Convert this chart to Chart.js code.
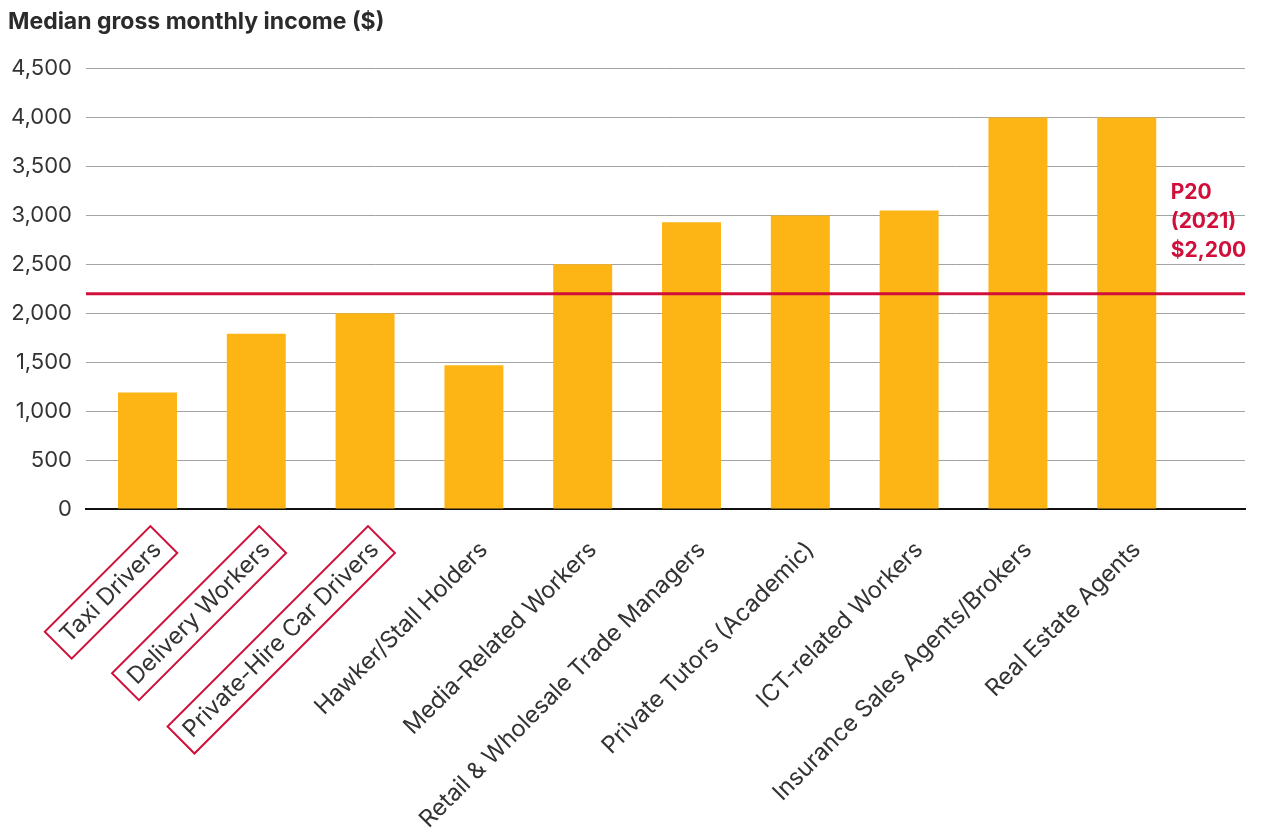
<!DOCTYPE html>
<html>
<head>
<meta charset="utf-8">
<title>Median gross monthly income</title>
<script src="https://cdn.jsdelivr.net/npm/chart.js@4.4.1/dist/chart.umd.min.js"></script>
<style>
  html, body { margin: 0; padding: 0; background: #fff; }
  canvas { display: block; }
</style>
</head>
<body>
<canvas id="myChart" width="1262" height="836"></canvas>
<script>
const occupations = [
  'Taxi Drivers',
  'Delivery Workers',
  'Private-Hire Car Drivers',
  'Hawker/Stall Holders',
  'Media-Related Workers',
  'Retail & Wholesale Trade Managers',
  'Private Tutors (Academic)',
  'ICT-related Workers',
  'Insurance Sales Agents/Brokers',
  'Real Estate Agents'
];
const medianIncome = [1190, 1790, 2000, 1470, 2500, 2930, 3000, 3050, 4000, 4000];

// platform workers get a box round their label
const highlighted = ['Taxi Drivers', 'Delivery Workers', 'Private-Hire Car Drivers'];

const p20Income = 2200;
const p20Label = ['P20', '(2021)', '$2,200'];

const yMin = 0;
const yMax = 4500;
const yStep = 500;

const barColor = '#FDB515';
const red = '#D0103A';
const textColor = '#333333';
const fontFamily = 'Inter, "Noto Sans", sans-serif';

// x runs a little past the first and last bar so the grid reaches the edges
const xMin = -0.565;
const xMax = 10.087;

const boxedLabels = {
  id: 'boxedLabels',
  afterDraw(chart) {
    const ctx = chart.ctx;
    chart.scales.x.getLabelItems().forEach(item => {
      if (!highlighted.includes(item.label)) return;
      const [tx, ty] = item.options.translation;
      ctx.save();
      ctx.translate(tx, ty);
      ctx.rotate(item.options.rotation);
      ctx.font = item.font.string;
      const w = ctx.measureText(item.label).width;
      ctx.strokeStyle = red;
      ctx.lineWidth = 2;
      ctx.strokeRect(-w - 9, item.textOffset - 19, w + 18, 38);
      ctx.restore();
    });
  }
};

const p20Text = {
  id: 'p20Text',
  afterDatasetsDraw(chart) {
    const { ctx, scales: { x, y } } = chart;
    const left = x.getPixelForValue(occupations.length - 1) + 44;
    const bottom = y.getPixelForValue(p20Income) - 37;
    ctx.save();
    ctx.fillStyle = red;
    ctx.font = 'bold 21px ' + fontFamily;
    ctx.textAlign = 'left';
    ctx.textBaseline = 'alphabetic';
    p20Label.forEach((line, i) => {
      ctx.fillText(line, left, bottom - (p20Label.length - 1 - i) * 28.7);
    });
    ctx.restore();
  }
};

const ctx = document.getElementById('myChart').getContext('2d');

const myChart = new Chart(ctx, {
  type: 'bar',
  data: {
    datasets: [{
      type: 'line',
      data: [{ x: xMin, y: p20Income }, { x: xMax, y: p20Income }],
      borderColor: red,
      borderWidth: 3,
      pointRadius: 0,
      order: 0
    }, {
      data: medianIncome.map((v, i) => ({ x: i, y: v })),
      backgroundColor: barColor,
      barPercentage: 0.542,
      categoryPercentage: 1,
      order: 1
    }]
  },
  options: {
    responsive: false,
    devicePixelRatio: 1,
    animation: false,
    layout: {
      padding: { left: 8, right: 17, top: 0, bottom: 0 }
    },
    plugins: {
      legend: { display: false },
      tooltip: { enabled: false },
      title: {
        display: true,
        text: 'Median gross monthly income ($)',
        align: 'start',
        color: '#2b2b2b',
        font: { family: fontFamily, size: 23, weight: 'bold' },
        padding: { top: 8, bottom: 33 }
      }
    },
    scales: {
      x: {
        type: 'linear',
        offset: false,
        min: xMin,
        max: xMax,
        z: 1,
        afterBuildTicks: scale => {
          scale.ticks = occupations.map((_, i) => ({ value: i }));
        },
        afterFit: scale => {
          scale.height = 327;
        },
        grid: { offset: false, drawOnChartArea: false, drawTicks: false },
        border: { display: true, color: '#111111', width: 2 },
        ticks: {
          autoSkip: false,
          minRotation: 45,
          maxRotation: 45,
          labelOffset: 10,
          padding: 27,
          color: textColor,
          font: { family: fontFamily, size: 23.5 },
          callback: value => occupations[value]
        }
      },
      y: {
        min: yMin,
        max: yMax,
        afterFit: scale => {
          scale.width = 78;
        },
        grid: { color: '#a3a3a3', lineWidth: 1, drawTicks: false },
        border: { display: false },
        ticks: {
          stepSize: yStep,
          padding: 14,
          color: textColor,
          font: { family: fontFamily, size: 22 },
          callback: value => value.toLocaleString('en-US')
        }
      }
    }
  },
  plugins: [boxedLabels, p20Text]
});
</script>
</body>
</html>
